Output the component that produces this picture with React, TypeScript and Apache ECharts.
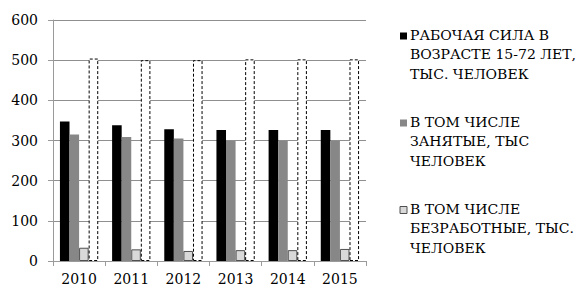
import React, { useEffect, useRef } from "react";
import * as echarts from "echarts";

const years = ["2010", "2011", "2012", "2013", "2014", "2015"];
const laborForce = [347, 338, 328, 326, 326, 326];
const employed = [315, 309, 305, 299, 299, 299];
const unemployed = [33, 29, 25, 27, 27, 30];
const outlined = [504, 500, 500, 502, 502, 502];

const seriesNames = [
  "РАБОЧАЯ СИЛА В\nВОЗРАСТЕ 15-72 ЛЕТ,\nТЫС. ЧЕЛОВЕК",
  "В ТОМ ЧИСЛЕ\nЗАНЯТЫЕ, ТЫС\nЧЕЛОВЕК",
  "В ТОМ ЧИСЛЕ\nБЕЗРАБОТНЫЕ, ТЫС.\nЧЕЛОВЕК",
];
const yTicks = [0, 100, 200, 300, 400, 500, 600];

const colors = ["#000000", "#878787", "#d9d9d9"];
const borders = ["#000000", "#878787", "#505050"];

export default function App() {
  const ref = useRef<HTMLDivElement>(null);
  useEffect(() => {
    document.body.style.margin = "0";
    const chart = echarts.init(ref.current!, undefined, { renderer: "svg" });
    const legendTops = [26, 113, 200];
    const graphic: any[] = [];
    seriesNames.forEach((n, i) => {
      graphic.push({
        type: "rect",
        shape: { x: 400, y: legendTops[i] + 6.5, width: 7, height: 7 },
        style: { fill: colors[i], stroke: borders[i], lineWidth: i === 2 ? 1 : 0 },
      });
      graphic.push({
        type: "text",
        x: 410,
        y: legendTops[i],
        scaleX: 1.17,
        style: {
          text: n,
          fontFamily: "DejaVu Serif",
          fontSize: 12,
          lineHeight: 19.5,
          fill: "#000",
          verticalAlign: "top",
          align: "left",
        },
      });
    });
    const labelFont = { fontFamily: "DejaVu Serif", fontSize: 14, color: "#000" };
    chart.setOption({
      animation: false,
      grid: { left: 53, right: 219, top: 20, bottom: 26, containLabel: false },
      xAxis: {
        type: "category",
        data: years,
        axisLine: { show: true, lineStyle: { color: "#9a9a9a", width: 1 } },
        axisTick: { show: true, length: 5, alignWithLabel: false, lineStyle: { color: "#9a9a9a" } },
        axisLabel: { ...labelFont, margin: 11 },
      },
      yAxis: {
        type: "value",
        min: yTicks[0],
        max: yTicks[yTicks.length - 1],
        interval: 100,
        axisLine: { show: true, lineStyle: { color: "#9a9a9a", width: 1 } },
        axisTick: { show: true, length: 5, lineStyle: { color: "#9a9a9a" } },
        axisLabel: { ...labelFont, margin: 15 },
        splitLine: { show: true, lineStyle: { color: "#8f8f8f", width: 1 } },
      },
      graphic,
      series: [
        {
          name: seriesNames[0],
          type: "bar",
          data: laborForce,
          barGap: "0%",
          barCategoryGap: "26.6%",
          itemStyle: { color: colors[0] },
        },
        {
          name: seriesNames[1],
          type: "bar",
          data: employed,
          itemStyle: { color: colors[1] },
        },
        {
          name: seriesNames[2],
          type: "bar",
          data: unemployed,
          itemStyle: { color: colors[2], borderColor: borders[2], borderWidth: 1 },
        },
        {
          name: "Всего",
          type: "bar",
          data: outlined,
          itemStyle: {
            color: "#ffffff",
            borderColor: "#000000",
            borderWidth: 1,
            borderType: [3, 2],
          },
        },
      ],
    });
    return () => chart.dispose();
  }, []);
  return <div ref={ref} style={{ width: 585, height: 287 }} />;
}
